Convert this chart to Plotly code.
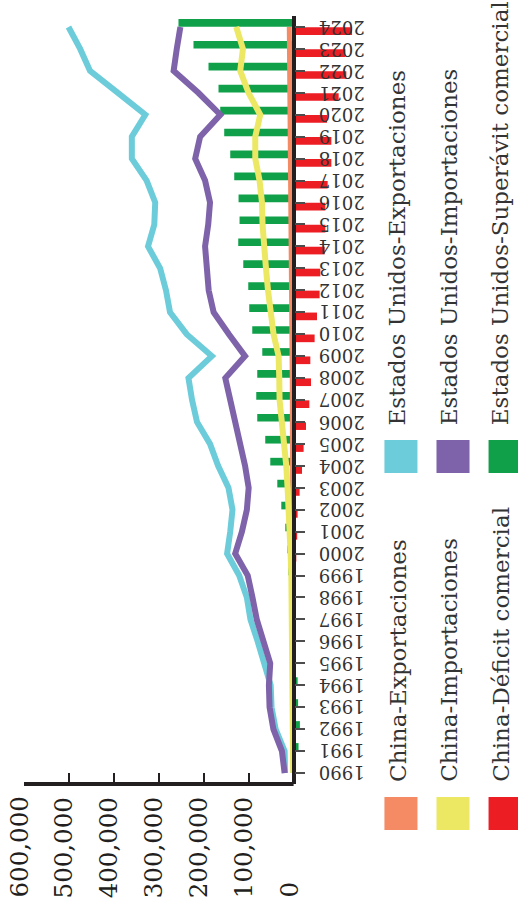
import plotly.graph_objects as go

# ---- data (millones de USD) ----
years = list(range(1990, 2025))

us_exports = [19000, 20000, 40000, 49000, 51000, 64000, 80000, 96000, 104000, 121000,
              148000, 141000, 136000, 145000, 168000, 186000, 215000, 226000, 234000, 182000,
              238000, 275000, 284000, 297000, 324000, 310000, 308000, 327000, 360000, 360000,
              330000, 391000, 453000, 475000, 501000]

us_imports = [20000, 26000, 45000, 53500, 55000, 52000, 67000, 82000, 91500, 102000,
              130000, 115000, 104000, 100000, 108000, 120000, 130000, 141000, 152000, 108000,
              144000, 178000, 189000, 193000, 197000, 190000, 186000, 197000, 219000, 208000,
              163000, 212000, 267000, 260000, 252000]

us_surplus = [-1000, -11000, -14000, -10000, -9000, 5000, 5000, 5000, 6000, 11800,
              14000, 18500, 27400, 36300, 51900, 63100, 80900, 83100, 80900, 69700,
              92000, 98700, 100900, 112000, 123200, 120300, 122500, 132100, 141000, 154400,
              163300, 167100, 189400, 222800, 256200]

china_exports = [200, 200, 200, 200, 300, 300, 300, 400, 400, 500,
                 600, 700, 900, 1200, 1400, 1600, 2500, 2800, 3000, 3500,
                 4500, 5800, 5600, 6400, 6000, 5200, 5600, 6900, 7800, 7900,
                 7600, 9700, 9800, 9500, 9600]

china_imports = [1000, 1200, 1500, 1500, 1800, 1500, 1800, 2500, 3500, 5000,
                 6700, 8000, 10200, 13400, 16300, 20700, 25800, 31200, 31900, 33400,
                 44600, 51900, 57000, 61500, 66000, 69100, 70400, 75800, 85300, 85300,
                 74200, 100300, 118800, 112700, 127700]

china_deficit = [-300, -500, -800, -1000, -1200, -1000, -1500, -2000, -2500, -4000,
                 -6000, -8000, -8900, -13400, -18700, -22300, -27600, -35000, -38800, -37200,
                 -46800, -52100, -57900, -59500, -69100, -70600, -70600, -75800, -84000, -84000,
                 -74400, -100300, -117400, -115200, -130100]

value_ticks = [0, 100000, 200000, 300000, 400000, 500000, 600000]
value_labels = [f"{v:,}" for v in value_ticks]

legend_labels = ["China-Exportaciones", "China-Importaciones", "China-Déficit comercial",
                 "Estados Unidos-Exportaciones", "Estados Unidos-Importaciones",
                 "Estados Unidos-Superávit comercial"]

# ---- style ----
ORANGE = "#F48B64"
YELLOW = "#ECE864"
RED = "#ED1D24"
CYAN = "#6DCCDA"
PURPLE = "#7E63AA"
GREEN = "#10A04A"
INK = "#231F20"
TEXT = "#333333"
FONT = "DejaVu Serif"
legend_colors = [ORANGE, YELLOW, RED, CYAN, PURPLE, GREEN]

# ---- geometry ----
W, H = 518, 907
X_MAX, X_MIN = 600000, -150000
PX_PER_UNIT = 44.88 / 100000
ML, MT = 24, 16
PLOT_W = (X_MAX - X_MIN) * PX_PER_UNIT
PLOT_H = 768
MR = W - ML - PLOT_W
MB = H - MT - PLOT_H


def paper_x(px):
    return (px - ML) / PLOT_W


def paper_y(py):
    return (MT + PLOT_H - py) / PLOT_H


zero_pos = (X_MAX - 0) / (X_MAX - X_MIN)

fig = go.Figure()

# bars: deficit (below) and surplus (above) in each year slot
fig.add_bar(y=years, x=china_deficit, orientation="h", marker=dict(color=RED, line=dict(width=0)),
            name=legend_labels[2], showlegend=False)
fig.add_bar(y=years, x=us_surplus, orientation="h", marker=dict(color=GREEN, line=dict(width=0)),
            name=legend_labels[5], showlegend=False)

# lines
fig.add_scatter(y=years, x=china_exports, mode="lines", line=dict(color=ORANGE, width=5),
                name=legend_labels[0], showlegend=False)
fig.add_scatter(y=years, x=china_imports, mode="lines", line=dict(color=YELLOW, width=6),
                name=legend_labels[1], showlegend=False)
fig.add_scatter(y=years, x=us_exports, mode="lines", line=dict(color=CYAN, width=6),
                name=legend_labels[3], showlegend=False)
fig.add_scatter(y=years, x=us_imports, mode="lines", line=dict(color=PURPLE, width=6),
                name=legend_labels[4], showlegend=False)

annotations = []

# value axis labels (rotated, aligned on their start)
for v, lab in zip(value_ticks, value_labels):
    annotations.append(dict(x=v, xref="x", y=paper_y(900), yref="paper", text=lab,
                            showarrow=False, textangle=-90, xanchor="center", yanchor="bottom",
                            xshift=-5, font=dict(family=FONT, size=24.5, color=INK)))

# year labels, turned upside down, right of the zero axis
for yr in years:
    annotations.append(dict(x=paper_x(316), xref="paper", y=yr, yref="y", text=str(yr),
                            showarrow=False, textangle=180, xanchor="left", yanchor="middle",
                            font=dict(family=FONT, size=18, color=TEXT)))

shapes = [dict(type="line", xref="x", yref="paper", x0=X_MAX, x1=0, y0=0, y1=0,
               line=dict(color=INK, width=4), layer="above")]

# legend: three columns, China row at the bottom, Estados Unidos row above
for i, (lab, col) in enumerate(zip(legend_labels, legend_colors)):
    c = i % 3
    r = i // 3
    sw_left = 384 + 52 * c
    sw_top = 797 - 357 * r
    shapes.append(dict(type="rect", xref="paper", yref="paper",
                       x0=paper_x(sw_left), x1=paper_x(sw_left + 33),
                       y0=paper_y(sw_top + 33), y1=paper_y(sw_top),
                       fillcolor=col, line=dict(width=0)))
    annotations.append(dict(x=paper_x(397 + 51.3 * c), xref="paper",
                            y=paper_y(sw_top - 13), yref="paper", text=lab,
                            showarrow=False, textangle=-90, xanchor="center", yanchor="bottom",
                            font=dict(family=FONT, size=23, color=TEXT)))

fig.update_layout(
    width=W, height=H,
    margin=dict(l=ML, r=MR, t=MT, b=MB, pad=0),
    paper_bgcolor="white", plot_bgcolor="white",
    barmode="group", bargap=0.24, bargroupgap=0.08,
    showlegend=False,
    font=dict(family=FONT, color=TEXT),
    xaxis=dict(range=[X_MAX, X_MIN], showgrid=False, zeroline=False, showline=False,
               ticks="inside", tickvals=value_ticks, ticklen=11, tickwidth=2, tickcolor=INK,
               showticklabels=False, fixedrange=True),
    yaxis=dict(range=[1989.5, 2024.5], anchor="free", position=zero_pos, side="right",
               showline=True, linewidth=3.5, linecolor=INK, showgrid=False, zeroline=False,
               ticks="outside", tickvals=years, ticklen=10, tickwidth=2, tickcolor="#4D4D4D",
               showticklabels=False, fixedrange=True),
    annotations=annotations,
    shapes=shapes,
)

fig.write_html("out.html", config={"displayModeBar": False})
